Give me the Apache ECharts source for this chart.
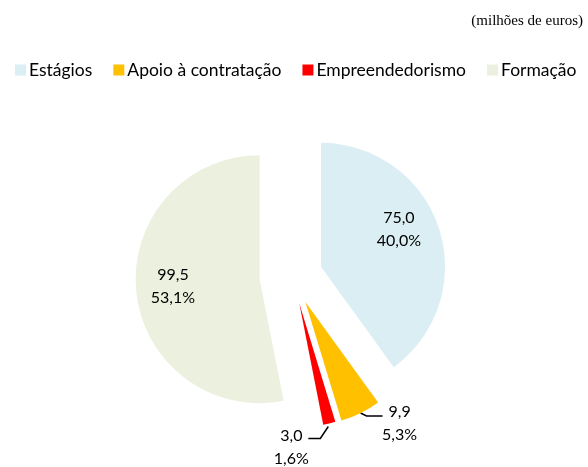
<!DOCTYPE html>
<html>
<head>
<meta charset="utf-8">
<script src="https://cdn.jsdelivr.net/npm/echarts@6/dist/echarts.min.js"></script>
<style>
  html, body { margin: 0; padding: 0; background: #fff; }
  #chart { width: 588px; height: 467px; }
</style>
</head>
<body>
<div id="chart"></div>
<script>
// dados (milhões de euros)
var categories = ['Estágios', 'Apoio à contratação', 'Empreendedorismo', 'Formação'];
var values = [75.0, 9.9, 3.0, 99.5];

var colors = ['#DAEEF3', '#FFC000', '#FF0000', '#EBF1DE'];
var explode = [30, 29, 28, 33];
var cx = 292.5, cy = 276;

function fmt(v) {
    return v.toFixed(1).replace('.', ',');
}

// ângulo médio de cada fatia (a partir do topo, sentido horário)
var total = values.reduce(function (a, b) { return a + b; }, 0);
var midAngles = [];
var acc = 0;
values.forEach(function (v) {
    midAngles.push((acc + v / 2) / total * 2 * Math.PI);
    acc += v;
});

// posição das etiquetas, como no original
function labelPos(i) {
    return function (params) {
        if (params.dataIndex !== i) return {};
        if (i === 0) return { dx: 16, dy: -17 };
        if (i === 3) return { dx: -22, dy: 1 };
        var p = params.labelLinePoints[0];
        if (i === 1) {
            return {
                x: p[0] + 39, y: p[1] + 10, align: 'center', verticalAlign: 'middle',
                labelLinePoints: [[p[0], p[1]], [p[0] + 6, p[1] + 3], [p[0] + 22, p[1] + 3]]
            };
        }
        return {
            x: p[0] - 38, y: p[1] + 24, align: 'center', verticalAlign: 'middle',
            labelLinePoints: [[p[0] - 1, p[1] + 3], [p[0] - 9, p[1] + 15], [p[0] - 21, p[1] + 15]]
        };
    };
}

// cada série mostra só uma fatia, afastada do centro pela sua distância
var series = categories.map(function (cat, i) {
    var inner = (i === 0 || i === 3);
    return {
        name: cat,
        type: 'pie',
        center: [cx + explode[i] * Math.sin(midAngles[i]), cy - explode[i] * Math.cos(midAngles[i])],
        radius: 124,
        startAngle: 90,
        clockwise: true,
        avoidLabelOverlap: false,
        animation: false,
        emphasis: { disabled: true },
        labelLayout: labelPos(i),
        data: categories.map(function (name, j) {
            var mine = (j === i);
            return {
                name: name,
                value: values[j],
                itemStyle: { color: mine ? colors[j] : 'transparent' },
                label: { show: mine, position: inner ? 'inside' : 'outside' },
                labelLine: { show: mine && !inner, length: 4, length2: 18, lineStyle: { color: '#000', width: 1.5 } }
            };
        }),
        label: {
            color: '#000',
            fontFamily: 'Lato',
            fontSize: 16,
            lineHeight: 23,
            align: 'center',
            formatter: function (p) {
                return fmt(p.value) + '\n' + fmt(p.percent) + '%';
            }
        }
    };
});

var chart = echarts.init(document.getElementById('chart'));
chart.setOption({
    backgroundColor: '#fff',
    title: {
        text: '(milhões de euros)',
        right: 0,
        top: 9,
        textStyle: { fontFamily: 'Liberation Serif', fontSize: 15, fontWeight: 'normal', color: '#000' }
    },
    legend: {
        left: 10,
        top: 56,
        icon: 'rect',
        itemWidth: 11,
        itemHeight: 11,
        itemGap: 21,
        selectedMode: false,
        textStyle: { fontFamily: 'Lato', fontSize: 17.5, color: '#000', padding: [0, 0, 0, -2] },
        data: categories.map(function (name, j) {
            return { name: name, itemStyle: { color: colors[j] } };
        })
    },
    series: series
});
</script>
</body>
</html>
